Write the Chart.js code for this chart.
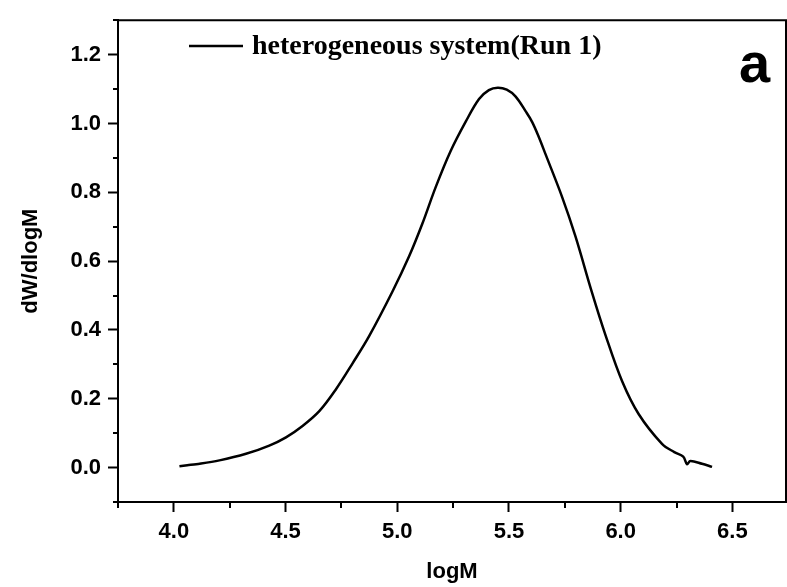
<!DOCTYPE html>
<html>
<head>
<meta charset="utf-8">
<script src="https://cdn.jsdelivr.net/npm/chart.js@4.4.1/dist/chart.umd.min.js"></script>
<style>
  html, body { margin: 0; padding: 0; background: #fff; overflow: hidden; }
</style>
</head>
<body>
<canvas id="gpcChart" width="787" height="587"></canvas>
<script>
// values
const logM = [4.025, 4.06, 4.10, 4.204, 4.323, 4.427, 4.502, 4.576, 4.651, 4.725, 4.800, 4.874,
  4.978, 5.053, 5.113, 5.172, 5.239, 5.307, 5.366, 5.41, 5.45, 5.49, 5.530, 5.575, 5.604,
  5.634, 5.664, 5.738, 5.798, 5.870, 5.932, 6.007, 6.081, 6.185, 6.240, 6.280, 6.297,
  6.312, 6.364, 6.409];
const dWdlogM = [0.004, 0.007, 0.010, 0.021, 0.040, 0.064, 0.088, 0.121, 0.164, 0.227, 0.303, 0.382,
  0.511, 0.614, 0.710, 0.815, 0.920, 1.006, 1.071, 1.097, 1.104, 1.098, 1.078, 1.035, 1.004,
  0.960, 0.910, 0.786, 0.671, 0.512, 0.385, 0.250, 0.155, 0.069, 0.045, 0.032, 0.010,
  0.019, 0.011, 0.002];

const xMajor = [4.0, 4.5, 5.0, 5.5, 6.0, 6.5];
const xMinor = [3.75, 4.25, 4.75, 5.25, 5.75, 6.25];
const yMajor = [0.0, 0.2, 0.4, 0.6, 0.8, 1.0, 1.2];
const yMinor = [-0.1, 0.1, 0.3, 0.5, 0.7, 0.9, 1.1, 1.3];

const seriesLabel = "heterogeneous system(Run 1)";
const panelLetter = "a";

const sansBold = { family: "'Liberation Sans', Arial, sans-serif", weight: "bold", size: 22 };

const framePlugin = {
  id: "frame",
  afterDraw(chart) {
    const { ctx, chartArea } = chart;
    const xs = chart.scales.x;
    const ys = chart.scales.y;
    ctx.save();
    ctx.strokeStyle = "#000";
    ctx.lineWidth = 2;

    // top and right border
    ctx.beginPath();
    ctx.moveTo(chartArea.left, chartArea.top);
    ctx.lineTo(chartArea.right, chartArea.top);
    ctx.lineTo(chartArea.right, chartArea.bottom);
    ctx.stroke();

    // minor ticks
    ctx.beginPath();
    xMinor.forEach((v) => {
      const px = Math.round(xs.getPixelForValue(v));
      ctx.moveTo(px, chartArea.bottom);
      ctx.lineTo(px, chartArea.bottom + 6);
    });
    yMinor.forEach((v) => {
      const py = Math.round(ys.getPixelForValue(v));
      ctx.moveTo(chartArea.left, py);
      ctx.lineTo(chartArea.left - 5, py);
    });
    ctx.stroke();

    // legend
    ctx.lineWidth = 2.5;
    ctx.beginPath();
    ctx.moveTo(189, 46);
    ctx.lineTo(243, 46);
    ctx.stroke();
    ctx.fillStyle = "#000";
    ctx.font = "bold 28px 'Liberation Serif', 'Times New Roman', serif";
    ctx.textBaseline = "alphabetic";
    ctx.textAlign = "left";
    ctx.fillText(chart.data.datasets[0].label, 252, 54);

    // panel letter
    ctx.font = "bold 56px 'Liberation Sans', Arial, sans-serif";
    ctx.fillText(panelLetter, 739, 82);
    ctx.restore();
  },
};

new Chart(document.getElementById("gpcChart"), {
  type: "scatter",
  data: {
    datasets: [
      {
        label: seriesLabel,
        data: logM.map((x, i) => ({ x: x, y: dWdlogM[i] })),
        showLine: true,
        borderColor: "#000",
        borderWidth: 2.5,
        pointRadius: 0,
        tension: 0.35,
      },
    ],
  },
  options: {
    responsive: false,
    animation: false,
    layout: { padding: { top: 13, right: 1, left: 0, bottom: 0 } },
    plugins: { legend: { display: false }, tooltip: { enabled: false } },
    scales: {
      x: {
        type: "linear",
        min: 3.75,
        max: 6.74,
        afterBuildTicks: (s) => { s.ticks = xMajor.map((v) => ({ value: v })); },
        afterFit: (s) => { s.height = 85; },
        ticks: {
          callback: (v) => Number(v).toFixed(1),
          font: sansBold,
          color: "#000",
          padding: 7,
          maxRotation: 0,
        },
        grid: { drawOnChartArea: false, tickLength: 10, tickColor: "#000", tickWidth: 2 },
        border: { color: "#000", width: 2 },
        title: { display: true, text: "logM", font: sansBold, color: "#000", padding: { top: 0, bottom: 2 } },
      },
      y: {
        type: "linear",
        min: -0.1,
        max: 1.3,
        afterBuildTicks: (s) => { s.ticks = yMajor.map((v) => ({ value: v })); },
        afterFit: (s) => { s.width = 118; },
        ticks: {
          callback: (v) => Number(v).toFixed(1),
          font: sansBold,
          color: "#000",
          padding: 7,
        },
        grid: { drawOnChartArea: false, tickLength: 10, tickColor: "#000", tickWidth: 2 },
        border: { color: "#000", width: 2 },
        title: { display: true, text: "dW/dlogM", font: sansBold, color: "#000", padding: { top: 18, bottom: 0 } },
      },
    },
  },
  plugins: [framePlugin],
});
</script>
</body>
</html>
